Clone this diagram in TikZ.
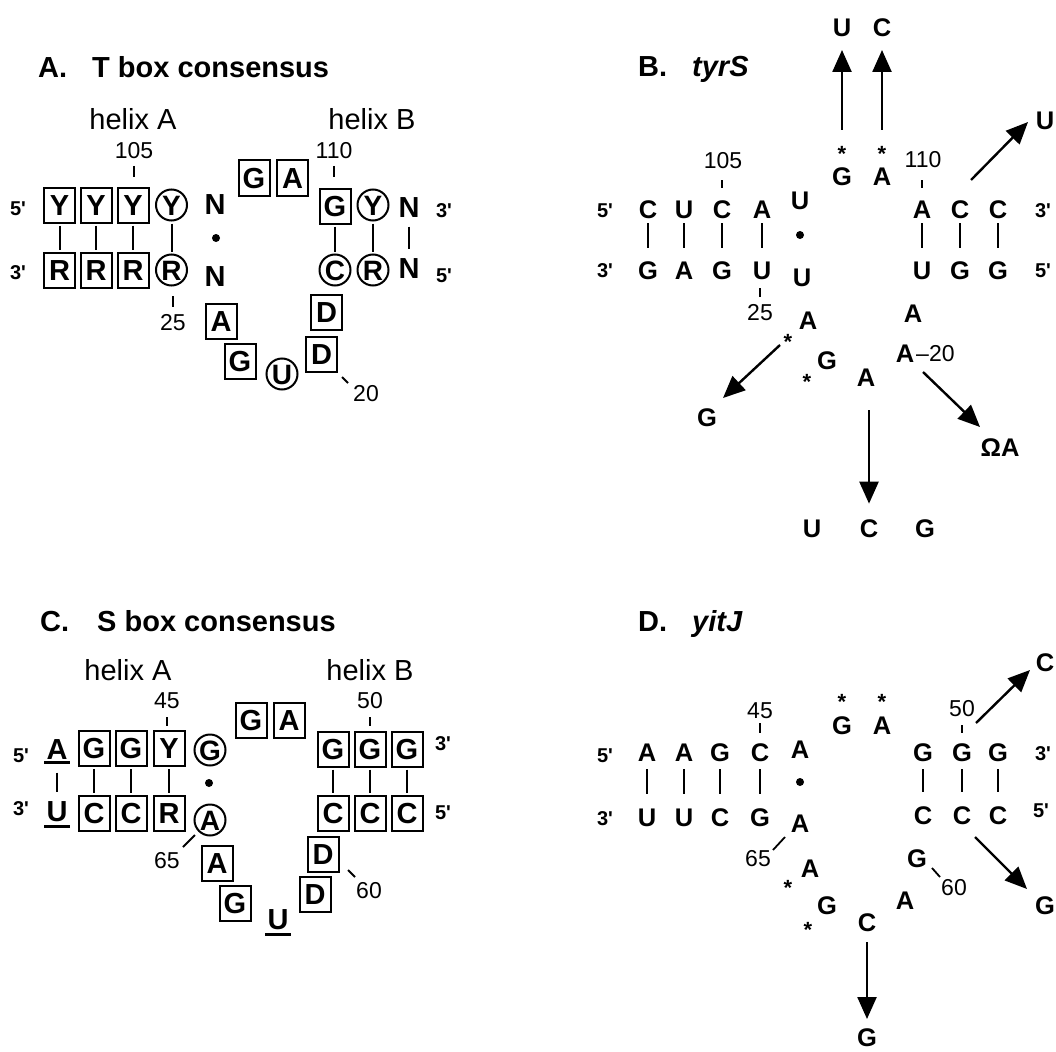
\documentclass[tikz,border=0pt]{standalone}
\usepackage{fontspec}
\setmainfont{Liberation Sans}
\newfontfamily\primefont{Liberation Sans}[Ligatures=TeXOff]
\usetikzlibrary{arrows.meta,calc}
\newcommand\fsz[1]{\fontsize{#1}{#1}\selectfont}

\tikzset{
  ttl/.style={inner sep=0pt, anchor=base west, font=\fsz{29}\bfseries},
  hlx/.style={inner sep=0pt, anchor=base, font=\fsz{29}},
  num/.style={inner sep=0pt, text height=16.5pt, text depth=0pt, font=\fsz{23}},
  prm/.style={inner sep=0pt, text height=14pt, text depth=0pt, font=\primefont\fsz{20}\bfseries},
  nt/.style={inner sep=0pt, text height=18.3pt, text depth=0pt, font=\fsz{25.5}\bfseries},
  pnt/.style={inner sep=0pt, text height=20.8pt, text depth=0pt, font=\fsz{29}\bfseries},
  bnt/.style={draw, line width=2pt, rectangle, minimum width=31pt, minimum height=35pt,
              inner sep=0pt, text height=20.8pt, text depth=0pt, font=\fsz{29}\bfseries},
  cnt/.style={draw, line width=2pt, circle, minimum size=31pt, inner sep=0pt,
              text height=20pt, text depth=0pt, font=\fsz{28}\bfseries},
  ast/.style={inner sep=0pt, yshift=-4.5pt, font=\fsz{22}\bfseries},
  dot/.style={circle, fill, inner sep=0pt, minimum size=8pt},
  bar/.style={line width=2pt},
  tick/.style={line width=1.8pt},
  uline/.style={line width=2.4pt},
  arr/.style={line width=2.4pt, -{Triangle[length=22pt,width=19pt]}},
}

\begin{document}
\begin{tikzpicture}[x=1pt,y=-1pt]
\useasboundingbox (0,0) rectangle (1056,1051);

% ---------------- A. T box consensus ----------------
\node[ttl] (aT1) at (38,78) {A.};
\node[ttl] (aT2) at (92,78) {T box consensus};
\node[hlx] (aHA) at (133,130) {helix A};
\node[hlx] (aHB) at (372,130) {helix B};
\node[num] (a105) at (134,150) {105};
\node[num] (a110) at (334,150) {110};
\node[prm] (a5L) at (18,208) {5'};
\node[prm] (a3L) at (18,272) {3'};
\node[bnt] (aY1) at (59.5,205) {Y};
\node[bnt] (aY2) at (96,205) {Y};
\node[bnt] (aY3) at (133,205) {Y};
\node[cnt] (aY4) at (171.5,205) {Y};
\node[bnt] (aR1) at (59.5,270) {R};
\node[bnt] (aR2) at (96,270) {R};
\node[bnt] (aR3) at (133,270) {R};
\node[cnt] (aR4) at (171.5,270) {R};
\node[pnt] (aN1) at (215,204) {N};
\node[dot] (aDot) at (216,238) {};
\node[pnt] (aN2) at (215,276) {N};
\node[bnt] (aG1) at (254,178) {G};
\node[bnt] (aA1) at (292.5,178) {A};
\node[bnt] (aG2) at (335,206) {G};
\node[cnt] (aY5) at (373,205) {Y};
\node[pnt] (aN3) at (409,207) {N};
\node[prm] (a3R) at (444,210) {3'};
\node[cnt] (aC1) at (335,270) {C};
\node[cnt] (aR5) at (373,270) {R};
\node[pnt] (aN4) at (409,268) {N};
\node[prm] (a5R) at (444,275) {5'};
\node[bnt] (aA2) at (221,321) {A};
\node[bnt] (aG3) at (240,361) {G};
\node[cnt] (aU1) at (282,374) {U};
\node[bnt] (aD2) at (321.5,354) {D};
\node[bnt] (aD1) at (326.5,312.5) {D};
\node[num] (a25) at (173,322) {25};
\node[num] (a20) at (366,393) {20};
\foreach \t/\b in {aY1/aR1,aY2/aR2,aY3/aR3,aY4/aR4,aG2/aC1,aY5/aR5}
  \draw[bar, shorten <=2pt, shorten >=2pt] (\t) -- (\b);
\draw[bar, shorten <=9pt, shorten >=8pt] (aN3) -- (aN4);
\draw[tick] ($(a105)+(0,16)$) -- ++(0,11);
\draw[tick] ($(a110)+(0,16)$) -- ++(0,11);
\draw[tick] ($(a25)+(0,-26)$) -- ++(0,11);
\draw[tick] ($(a20)+(-24,-16)$) -- ++(6,6);

% ---------------- B. tyrS ----------------
\node[ttl] (bT1) at (638,77) {B.};
\node[ttl, font=\fsz{29}\bfseries\itshape] (bT2) at (692,77) {tyrS};
\node[prm] (b5L) at (605,210) {5'};
\node[prm] (b3L) at (605,270) {3'};
\node[nt] (bC1) at (648,209) {C};
\node[nt] (bU1) at (684,209) {U};
\node[nt] (bC2) at (722,209) {C};
\node[nt] (bA1) at (762,209) {A};
\node[nt] (bU2) at (800,200) {U};
\node[dot] (bDot) at (800,235) {};
\node[nt] (bG1) at (648,270) {G};
\node[nt] (bA2) at (684,270) {A};
\node[nt] (bG2) at (722,270) {G};
\node[nt] (bU3) at (762,270) {U};
\node[nt] (bU4) at (802,277) {U};
\node[nt] (bA3) at (922,209) {A};
\node[nt] (bC3) at (960,209) {C};
\node[nt] (bC4) at (998,209) {C};
\node[prm] (b3R) at (1043,210) {3'};
\node[nt] (bU5) at (922,270) {U};
\node[nt] (bG3) at (960,270) {G};
\node[nt] (bG4) at (998,270) {G};
\node[prm] (b5R) at (1043,270) {5'};
\foreach \t/\b in {bC1/bG1,bU1/bA2,bC2/bG2,bA1/bU3,bA3/bU5,bC3/bG3,bC4/bG4}
  \draw[bar, shorten <=5pt, shorten >=13pt] (\t) -- (\b);
\node[num] (b105) at (723,160) {105};
\node[num] (b110) at (923,159) {110};
\draw[tick] ($(b105)+(-1,20)$) -- ++(0,8);
\draw[tick] ($(b110)+(-1,21)$) -- ++(0,8);
\node[nt] (bG5) at (842,176) {G};
\node[nt] (bA4) at (882,176) {A};
\node[ast] (bs1) at (842,149) {*};
\node[ast] (bs2) at (882,149) {*};
\node[nt] (bUt) at (842,27) {U};
\node[nt] (bCt) at (882,27) {C};
\draw[arr, shorten <=46pt, shorten >=23pt] (bG5.center) -- (bUt.center);
\draw[arr, shorten <=46pt, shorten >=23pt] (bA4.center) -- (bCt.center);
\node[nt] (bUr) at (1045,120) {U};
\coordinate (bq1) at (971,180);
\coordinate (bq2) at (1028,122);
\draw[arr] (bq1) -- (bq2);
% lower loop
\node[num] (b25) at (760,312) {25};
\draw[tick] ($(b25)+(0,-24)$) -- ++(0,9);
\node[nt] (bA5) at (808,320) {A};
\node[ast] (bs3) at (788,337) {*};
\node[nt] (bG6) at (827,360) {G};
\node[ast] (bs4) at (807,377) {*};
\node[nt] (bA6) at (866,377) {A};
\node[nt] (bA7) at (913,313) {A};
\node[nt] (bA8) at (905,353) {A};
\node[num, anchor=west] (b20) at (916,353) {–20};
\node[nt] (bGm) at (707,417) {G};
\coordinate (bq3) at (780,345);
\coordinate (bq4) at (723,398);
\draw[arr] (bq3) -- (bq4);
\node[nt] (bUm) at (812,528) {U};
\node[nt] (bCm) at (869,528) {C};
\node[nt] (bGm2) at (925,528) {G};
\coordinate (bq5) at (869,410);
\draw[arr, shorten >=15pt] (bq5) -- (bCm.north);
\node[nt] (bOm) at (1000,447) {ΩA};
\coordinate (bq6) at (923,372);
\coordinate (bq7) at (980,427);
\draw[arr] (bq6) -- (bq7);

% ---------------- C. S box consensus ----------------
\node[ttl] (cT1) at (40,631) {C.};
\node[ttl] (cT2) at (97,631) {S box consensus};
\node[hlx] (cHA) at (128,680) {helix A};
\node[hlx] (cHB) at (370,680) {helix B};
\node[num] (c45) at (167,700) {45};
\node[num] (c50) at (370,700) {50};
\draw[tick] ($(c45)+(0,17)$) -- ++(0,9);
\draw[tick] ($(c50)+(0,17)$) -- ++(0,9);
\node[prm] (c5L) at (21,755) {5'};
\node[prm] (c3L) at (21,808) {3'};
\node[pnt] (cA1) at (57,749) {A};
\node[pnt] (cU1) at (57,811) {U};
\draw[uline] ($(cA1.south west)+(-2,3)$) -- ($(cA1.south east)+(2,3)$);
\draw[uline] ($(cU1.south west)+(-2,5)$) -- ($(cU1.south east)+(2,5)$);
\draw[bar, shorten <=13pt, shorten >=8pt] (cA1) -- (cU1);
\node[bnt] (cG1) at (94,748.5) {G};
\node[bnt] (cG2) at (131,748.5) {G};
\node[bnt] (cY1) at (169,748.5) {Y};
\node[cnt] (cG3) at (210,750) {G};
\node[bnt] (cC1) at (94,813.5) {C};
\node[bnt] (cC2) at (131,813.5) {C};
\node[bnt] (cR1) at (169,813.5) {R};
\node[cnt] (cA2) at (210,820) {A};
\node[dot] (cDot) at (209,783) {};
\node[bnt] (cG4) at (251,720) {G};
\node[bnt] (cA3) at (289,720) {A};
\node[bnt] (cG5) at (333,749) {G};
\node[bnt] (cG6) at (370,749) {G};
\node[bnt] (cG7) at (407,749) {G};
\node[prm] (c3R) at (443,743) {3'};
\node[bnt] (cC3) at (333,813.5) {C};
\node[bnt] (cC4) at (370,813.5) {C};
\node[bnt] (cC5) at (407,813.5) {C};
\node[prm] (c5R) at (443,812) {5'};
\foreach \t/\b in {cG1/cC1,cG2/cC2,cY1/cR1,cG5/cC3,cG6/cC4,cG7/cC5}
  \draw[bar, shorten <=2pt, shorten >=2pt] (\t) -- (\b);
\node[bnt] (cA4) at (217,863) {A};
\node[bnt] (cG8) at (235,903) {G};
\node[pnt] (cU2) at (278,919) {U};
\draw[uline] ($(cU2.south west)+(-2,5)$) -- ($(cU2.south east)+(2,5)$);
\node[bnt] (cD2) at (315,894) {D};
\node[bnt] (cD1) at (323,854) {D};
\node[num] (c65) at (167,860) {65};
\node[num] (c60) at (369,890) {60};
\draw[tick] ($(c65)+(28,-25)$) -- ++(-12,12);
\draw[tick] ($(c60)+(-21,-20)$) -- ++(7,7);

% ---------------- D. yitJ ----------------
\node[ttl] (dT1) at (638,631) {D.};
\node[ttl, font=\fsz{29}\bfseries\itshape] (dT2) at (692,631) {yitJ};
\node[prm] (d5L) at (605,755) {5'};
\node[prm] (d3L) at (605,818) {3'};
\node[nt] (dA1) at (647,752) {A};
\node[nt] (dA2) at (684,752) {A};
\node[nt] (dG1) at (720,752) {G};
\node[nt] (dC1) at (760,752) {C};
\node[nt] (dA3) at (800,749) {A};
\node[dot] (dDot) at (800,782) {};
\node[nt] (dU1) at (647,817) {U};
\node[nt] (dU2) at (684,817) {U};
\node[nt] (dC2) at (720,817) {C};
\node[nt] (dG2) at (760,817) {G};
\node[nt] (dA4) at (800,823) {A};
\node[nt] (dG3) at (923,752) {G};
\node[nt] (dG4) at (962,752) {G};
\node[nt] (dG5) at (998,752) {G};
\node[prm] (d3R) at (1043,753) {3'};
\node[nt] (dC3) at (923,815) {C};
\node[nt] (dC4) at (962,815) {C};
\node[nt] (dC5) at (998,815) {C};
\node[prm] (d5R) at (1041,810) {5'};
\foreach \t/\b in {dA1/dU1,dA2/dU2,dG1/dC2,dC1/dG2,dG3/dC3,dG4/dC4,dG5/dC5}
  \draw[bar, shorten <=8pt, shorten >=14pt] (\t) -- (\b);
\node[num] (d45) at (760,710) {45};
\node[num] (d50) at (962,708) {50};
\draw[tick] ($(d45)+(0,13)$) -- ++(0,10);
\draw[tick] ($(d50)+(0,17)$) -- ++(0,8);
\node[nt] (dG6) at (842,725) {G};
\node[nt] (dA5) at (882,725) {A};
\node[ast] (ds1) at (842,697) {*};
\node[ast] (ds2) at (882,697) {*};
\node[nt] (dCr) at (1045,662) {C};
\coordinate (dq1) at (976,723);
\coordinate (dq2) at (1030,670);
\draw[arr] (dq1) -- (dq2);
% lower loop
\node[num] (d65) at (758,858) {65};
\draw[tick] ($(d65)+(27,-21)$) -- ++(-12,13);
\node[nt] (dA6) at (810,868) {A};
\node[ast] (ds3) at (788,883) {*};
\node[nt] (dG7) at (827,905) {G};
\node[ast] (ds4) at (808,925) {*};
\node[nt] (dC6) at (867,922) {C};
\node[nt] (dA7) at (905,900) {A};
\node[nt] (dG8) at (917,858) {G};
\node[num] (d60) at (954,887) {60};
\draw[tick] ($(d60)+(-22,-19)$) -- ++(8,9);
\node[nt] (dGb) at (867,1037) {G};
\draw[arr, shorten <=20pt, shorten >=18pt] (dC6.center) -- (dGb.center);
\node[nt] (dGr) at (1045,905) {G};
\coordinate (dq3) at (975,837);
\coordinate (dq4) at (1027,889);
\draw[arr] (dq3) -- (dq4);
\end{tikzpicture}
\end{document}
